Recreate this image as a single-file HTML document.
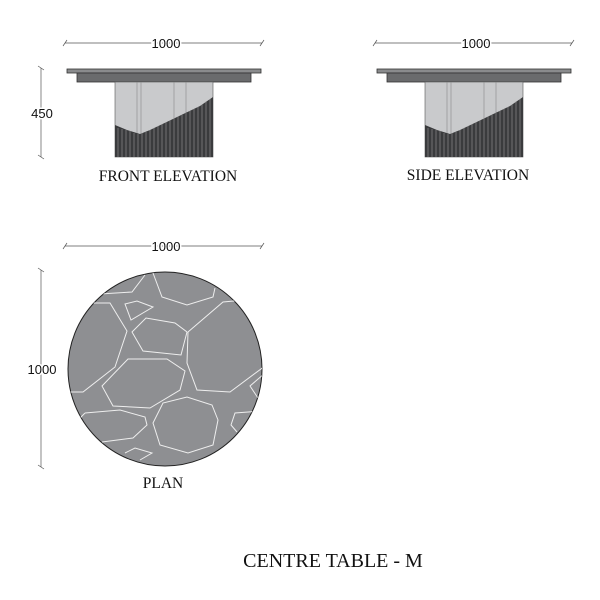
<!DOCTYPE html>
<html><head><style>body{margin:0;background:#fff}svg{display:block}</style></head><body>
<svg width="600" height="600" viewBox="0 0 600 600" xmlns="http://www.w3.org/2000/svg">
<defs>
<g id="elev">
  <rect x="67" y="69" width="194" height="4" fill="#8a8b8d" stroke="#333" stroke-width="0.8"/>
  <rect x="77" y="73" width="174" height="9" fill="#6a6b6d" stroke="#333" stroke-width="0.8"/>
  <rect x="115" y="82" width="98" height="75" fill="#c9cacc" stroke="#555" stroke-width="0.6"/>
  <g stroke="#888" stroke-width="0.6"><line x1="137" y1="82" x2="137" y2="135"/><line x1="141" y1="82" x2="141" y2="135"/><line x1="174" y1="82" x2="174" y2="122"/><line x1="186" y1="82" x2="186" y2="117"/></g>
  <path d="M115 125 L127 130 L140 134 L150 130 L175 118 L200 106 L213 97 L213 157 L115 157 Z" fill="#3a3b3d"/>
  <g stroke="#aaa" stroke-width="0.5">
    <line x1="118" y1="128" x2="118" y2="157"/><line x1="122" y1="129" x2="122" y2="157"/><line x1="126" y1="130" x2="126" y2="157"/><line x1="130" y1="131" x2="130" y2="157"/><line x1="134" y1="133" x2="134" y2="157"/><line x1="138" y1="134" x2="138" y2="157"/><line x1="142" y1="133" x2="142" y2="157"/><line x1="146" y1="132" x2="146" y2="157"/><line x1="150" y1="130" x2="150" y2="157"/><line x1="154" y1="128" x2="154" y2="157"/><line x1="158" y1="126" x2="158" y2="157"/><line x1="162" y1="124" x2="162" y2="157"/><line x1="166" y1="122" x2="166" y2="157"/><line x1="170" y1="120" x2="170" y2="157"/><line x1="174" y1="118" x2="174" y2="157"/><line x1="178" y1="116" x2="178" y2="157"/><line x1="182" y1="115" x2="182" y2="157"/><line x1="186" y1="113" x2="186" y2="157"/><line x1="190" y1="111" x2="190" y2="157"/><line x1="194" y1="109" x2="194" y2="157"/><line x1="198" y1="107" x2="198" y2="157"/><line x1="202" y1="104" x2="202" y2="157"/><line x1="206" y1="101" x2="206" y2="157"/><line x1="210" y1="99" x2="210" y2="157"/>
  </g>
  <g stroke="#555" stroke-width="0.7" fill="none">
    <line x1="65" y1="43" x2="262" y2="43"/><line x1="63" y1="46" x2="67" y2="40"/><line x1="260" y1="46" x2="264" y2="40"/>
  </g>
  <text x="166" y="48" font-family="Liberation Sans, sans-serif" font-size="13" text-anchor="middle" fill="#111" style="paint-order:stroke" stroke="#fff" stroke-width="3">1000</text>
</g>
<clipPath id="cc"><circle cx="165" cy="369" r="97"/></clipPath>
</defs>
<use href="#elev"/>
<use href="#elev" transform="translate(310,0)"/>
<g stroke="#555" stroke-width="0.7"><line x1="41" y1="68" x2="41" y2="157"/><line x1="38" y1="66" x2="44" y2="70"/><line x1="38" y1="155" x2="44" y2="159"/></g>
<text x="42" y="118" font-family="Liberation Sans, sans-serif" font-size="13" text-anchor="middle" fill="#111" style="paint-order:stroke" stroke="#fff" stroke-width="3">450</text>
<text x="168" y="181" font-family="Liberation Serif, serif" font-size="15.5" text-anchor="middle" fill="#111">FRONT ELEVATION</text>
<text x="468" y="180" font-family="Liberation Serif, serif" font-size="15.5" text-anchor="middle" fill="#111">SIDE ELEVATION</text>

<g stroke="#555" stroke-width="0.7"><line x1="65" y1="246" x2="262" y2="246"/><line x1="63" y1="249" x2="67" y2="243"/><line x1="260" y1="249" x2="264" y2="243"/>
<line x1="41" y1="270" x2="41" y2="467"/><line x1="38" y1="268" x2="44" y2="272"/><line x1="38" y1="465" x2="44" y2="469"/></g>
<text x="166" y="251" font-family="Liberation Sans, sans-serif" font-size="13" text-anchor="middle" fill="#111" style="paint-order:stroke" stroke="#fff" stroke-width="3">1000</text>
<text x="42" y="374" font-family="Liberation Sans, sans-serif" font-size="13" text-anchor="middle" fill="#111" style="paint-order:stroke" stroke="#fff" stroke-width="3">1000</text>

<circle cx="165" cy="369" r="97" fill="#8e8f92" stroke="#222" stroke-width="1"/>
<g clip-path="url(#cc)" fill="none" stroke="#eee" stroke-width="1">
  <polyline points="153,273 162,297 187,305 213,297 215,288"/>
  <polyline points="100,294 132,292 145,275"/>
  <polygon points="125,304 137,301 153,307 131,320"/>
  <polyline points="65,392 83,392 115,367 127,331 110,303 90,303"/>
  <polygon points="132,332 146,318 175,323 187,332 181,355 143,351"/>
  <polyline points="188,332 223,302 245,300"/>
  <polyline points="188,332 187,363 197,390 230,392 265,366"/>
  <polygon points="102,386 128,359 167,359 185,371 180,390 150,408 113,406"/>
  <polygon points="153,423 163,403 187,397 212,405 218,420 213,445 188,453 160,445"/>
  <polyline points="85,413 120,410 145,417 147,425 133,438 102,442"/>
  <polyline points="85,413 80,418"/>
  <polyline points="265,373 250,386 258,398"/>
  <polyline points="262,411 235,413 231,425 237,432"/>
  <polyline points="125,453 135,448 152,453 140,460"/>
</g>
<text x="163" y="488" font-family="Liberation Serif, serif" font-size="15.5" text-anchor="middle" fill="#111">PLAN</text>
<text x="333" y="567" font-family="Liberation Serif, serif" font-size="20" text-anchor="middle" fill="#111">CENTRE TABLE - M</text>
</svg>
</body></html>
